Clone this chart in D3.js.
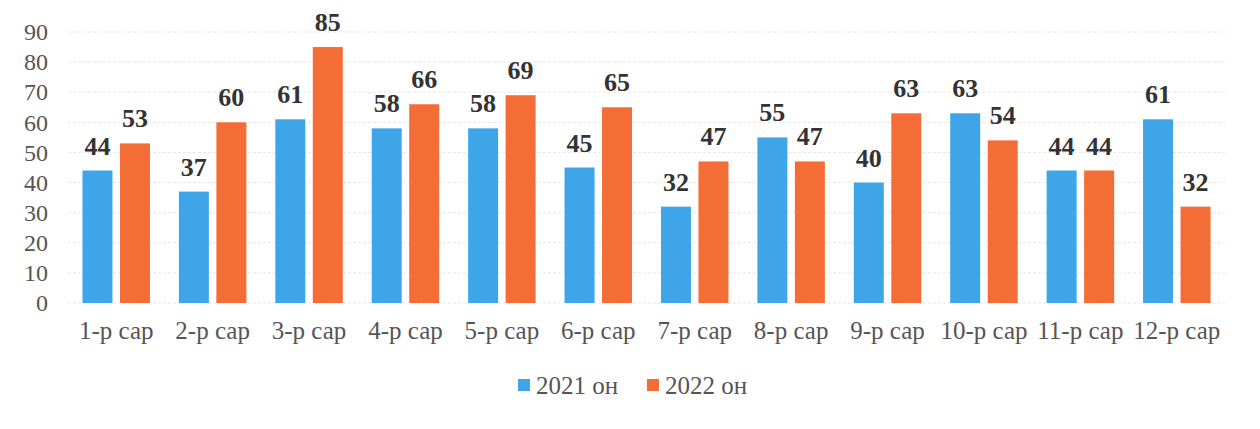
<!DOCTYPE html>
<html>
<head>
<meta charset="utf-8">
<script src="https://cdn.jsdelivr.net/npm/d3@7"></script>
<style>
  body { margin: 0; background: #fff; }
</style>
</head>
<body>
<div id="chart-area"></div>
<script>
// data
var months = ['1-р сар', '2-р сар', '3-р сар', '4-р сар', '5-р сар', '6-р сар',
              '7-р сар', '8-р сар', '9-р сар', '10-р сар', '11-р сар', '12-р сар'];
var values2021 = [44, 37, 61, 58, 58, 45, 32, 55, 40, 63, 44, 61];
var values2022 = [53, 60, 85, 66, 69, 65, 47, 47, 63, 54, 44, 32];
var seriesNames = ['2021 он', '2022 он'];
var yTicks = [0, 10, 20, 30, 40, 50, 60, 70, 80, 90];

var colors = ['#3ea6e8', '#f46c36'];
var serif = "'Liberation Serif', 'Times New Roman', 'DejaVu Serif', serif";

var W = 1260, H = 429;
var margin = { left: 68, right: 35, top: 32, bottom: 126 };
var width = W - margin.left - margin.right,
    height = H - margin.top - margin.bottom;

var svg = d3.select('#chart-area').append('svg')
    .attr('width', W).attr('height', H)
    .style('font-family', serif);

var g = svg.append('g')
    .attr('transform', 'translate(' + margin.left + ',' + margin.top + ')');

// scales
var x0 = d3.scaleBand().domain(months).range([0, width]).paddingInner(0.3).paddingOuter(0.15);
var x1 = d3.scaleBand().domain([0, 1]).range([0, x0.bandwidth()]).paddingInner(0.2);
var y = d3.scaleLinear().domain([0, 90]).range([height, 0]);

// gridlines
g.append('g').selectAll('line').data(yTicks).enter().append('line')
    .attr('x1', 0).attr('x2', width)
    .attr('y1', function(d) { return y(d); }).attr('y2', function(d) { return y(d); })
    .attr('stroke', '#e6e6e6').attr('stroke-dasharray', '3,2');

// y axis
var yAxis = d3.axisLeft(y).tickValues(yTicks).tickSize(0).tickPadding(20);
var yAxisGroup = g.append('g').call(yAxis).attr('font-family', null);
yAxisGroup.select('.domain').remove();
yAxisGroup.selectAll('text').attr('font-size', 24).attr('fill', '#555').style('font-family', serif);

// x axis
var xAxis = d3.axisBottom(x0).tickSize(0).tickPadding(18);
var xAxisGroup = g.append('g').attr('transform', 'translate(0,' + height + ')').call(xAxis).attr('font-family', null);
xAxisGroup.select('.domain').remove();
xAxisGroup.selectAll('text').attr('font-size', 25).attr('fill', '#555').style('font-family', serif);

// bars
var groups = g.selectAll('.month').data(months).enter().append('g')
    .attr('class', 'month')
    .attr('transform', function(d) { return 'translate(' + x0(d) + ',0)'; });

[values2021, values2022].forEach(function(vals, s) {
    groups.append('rect')
        .attr('x', x1(s))
        .attr('width', x1.bandwidth())
        .attr('y', function(d, i) { return y(vals[i]); })
        .attr('height', function(d, i) { return height - y(vals[i]); })
        .attr('fill', colors[s]);

    groups.append('text')
        .attr('x', x1(s) + x1.bandwidth() / 2)
        .attr('y', function(d, i) { return y(vals[i]) - 16; })
        .attr('text-anchor', 'middle')
        .attr('font-size', 26)
        .attr('font-weight', 'bold')
        .attr('fill', '#333')
        .text(function(d, i) { return vals[i]; });
});

// legend
var legend = svg.append('g').attr('transform', 'translate(518,386)');
var legendX = [0, 129];
seriesNames.forEach(function(name, i) {
    var row = legend.append('g').attr('transform', 'translate(' + legendX[i] + ',0)');
    row.append('rect').attr('x', 0).attr('y', -7).attr('width', 12).attr('height', 12).attr('fill', colors[i]);
    row.append('text').attr('x', 18).attr('y', 8).attr('font-size', 25).attr('fill', '#555').text(name);
});
</script>
</body>
</html>
